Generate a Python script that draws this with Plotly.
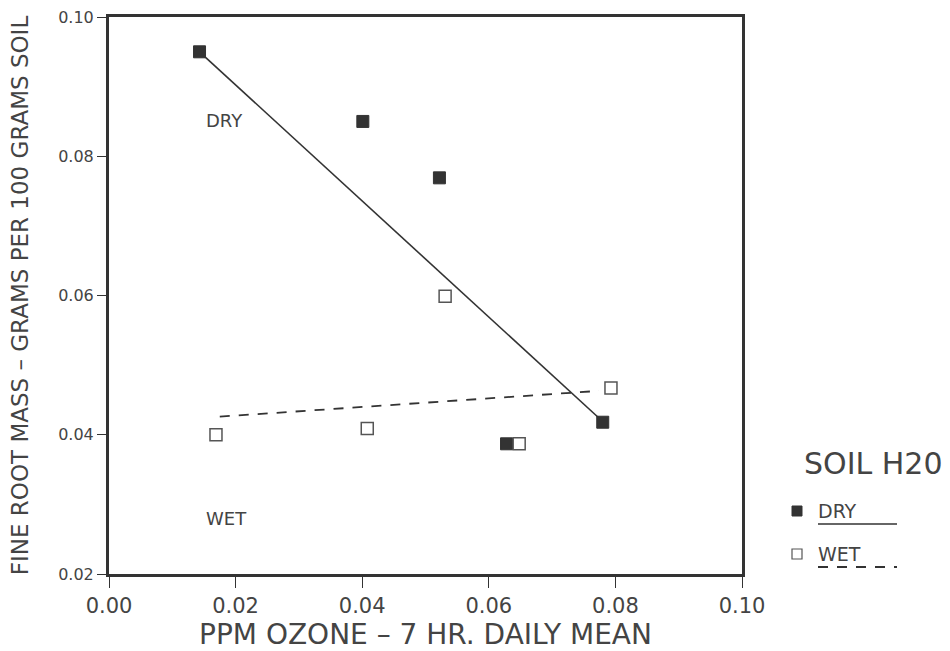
import plotly.graph_objects as go

# ---- data ----
dry_x = [0.0143, 0.0401, 0.0522, 0.0628, 0.0780]
dry_y = [0.0950, 0.0850, 0.0769, 0.0387, 0.0418]
wet_x = [0.0169, 0.0408, 0.0531, 0.0648, 0.0793]
wet_y = [0.0400, 0.0409, 0.0599, 0.0387, 0.0467]
dry_fit_x = [0.0143, 0.0780]
dry_fit_y = [0.0950, 0.0419]
wet_fit_x = [0.0175, 0.0774]
wet_fit_y = [0.0426, 0.0463]
x_ticks = [0.00, 0.02, 0.04, 0.06, 0.08, 0.10]
y_ticks = [0.02, 0.04, 0.06, 0.08, 0.10]

FONT = "DejaVu Sans"
TXT = "#444444"
INK = "#333333"

fig = go.Figure()
fig.add_trace(go.Scatter(x=dry_fit_x, y=dry_fit_y, mode="lines",
                         line=dict(color=INK, width=1.6), showlegend=False))
fig.add_trace(go.Scatter(x=wet_fit_x, y=wet_fit_y, mode="lines",
                         line=dict(color=INK, width=1.8, dash="10px,9px"), showlegend=False))
fig.add_trace(go.Scatter(x=dry_x, y=dry_y, mode="markers",
                         marker=dict(symbol="square", size=12, color=INK,
                                     line=dict(color=INK, width=1)), showlegend=False))
fig.add_trace(go.Scatter(x=wet_x, y=wet_y, mode="markers",
                         marker=dict(symbol="square", size=12, color="white",
                                     line=dict(color="#555555", width=1.5)), showlegend=False))

fig.add_annotation(x=0.0183, y=0.0851, text="DRY", showarrow=False,
                   font=dict(family=FONT, size=18, color=TXT))
fig.add_annotation(x=0.0185, y=0.0280, text="WET", showarrow=False,
                   font=dict(family=FONT, size=18, color=TXT))

# legend (drawn manually, paper coordinates)
def px_x(p):
    return (p - 109) / 633.0

def px_y(p):
    return (574 - p) / 557.0

fig.add_annotation(xref="paper", yref="paper", x=px_x(802), y=px_y(463), xanchor="left",
                   yanchor="middle", text="SOIL H20", showarrow=False,
                   font=dict(family=FONT, size=30, color=TXT))
fig.add_shape(type="rect", xref="paper", yref="paper",
              x0=px_x(792), x1=px_x(802), y0=px_y(516), y1=px_y(506),
              fillcolor=INK, line=dict(color=INK, width=1))
fig.add_shape(type="rect", xref="paper", yref="paper",
              x0=px_x(792), x1=px_x(802), y0=px_y(559), y1=px_y(549),
              fillcolor="white", line=dict(color="#555555", width=1.2))
fig.add_annotation(xref="paper", yref="paper", x=px_x(816), y=px_y(511), xanchor="left",
                   yanchor="middle", text="DRY", showarrow=False,
                   font=dict(family=FONT, size=19, color=TXT))
fig.add_annotation(xref="paper", yref="paper", x=px_x(816), y=px_y(554), xanchor="left",
                   yanchor="middle", text="WET", showarrow=False,
                   font=dict(family=FONT, size=19, color=TXT))
fig.add_shape(type="line", xref="paper", yref="paper",
              x0=px_x(818), x1=px_x(897), y0=px_y(524), y1=px_y(524),
              line=dict(color=INK, width=1.6))
fig.add_shape(type="line", xref="paper", yref="paper",
              x0=px_x(818), x1=px_x(897), y0=px_y(567), y1=px_y(567),
              line=dict(color=INK, width=1.8, dash="10px,9px"))

fig.update_layout(
    width=950, height=651,
    margin=dict(l=109, r=208, t=17, b=77, autoexpand=False),
    paper_bgcolor="white", plot_bgcolor="white",
    font=dict(family=FONT, color=TXT),
    showlegend=False,
)
fig.update_xaxes(range=[0, 0.10], tickvals=x_ticks, tickformat=".2f",
                 showgrid=False, zeroline=False, automargin=False,
                 showline=True, mirror=True, linecolor=INK, linewidth=3,
                 ticks="outside", ticklen=11, tickwidth=1, tickcolor=INK,
                 tickfont=dict(family=FONT, size=21, color=TXT),
                 title=dict(text="PPM OZONE – 7 HR. DAILY MEAN", standoff=6,
                            font=dict(family=FONT, size=28, color=TXT)))
fig.update_yaxes(range=[0.02, 0.10], tickvals=y_ticks, tickformat=".2f",
                 showgrid=False, zeroline=False, automargin=False,
                 showline=True, mirror=True, linecolor=INK, linewidth=3,
                 ticks="outside", ticklen=9, tickwidth=1, tickcolor=INK,
                 tickfont=dict(family=FONT, size=16, color=TXT),
                 title=dict(text="FINE ROOT MASS – GRAMS PER 100 GRAMS SOIL", standoff=24,
                            font=dict(family=FONT, size=23, color=TXT)))

fig.write_html("out.html", config={"displayModeBar": False},
               post_script="document.body.style.margin='0';document.body.style.overflow='hidden';")
